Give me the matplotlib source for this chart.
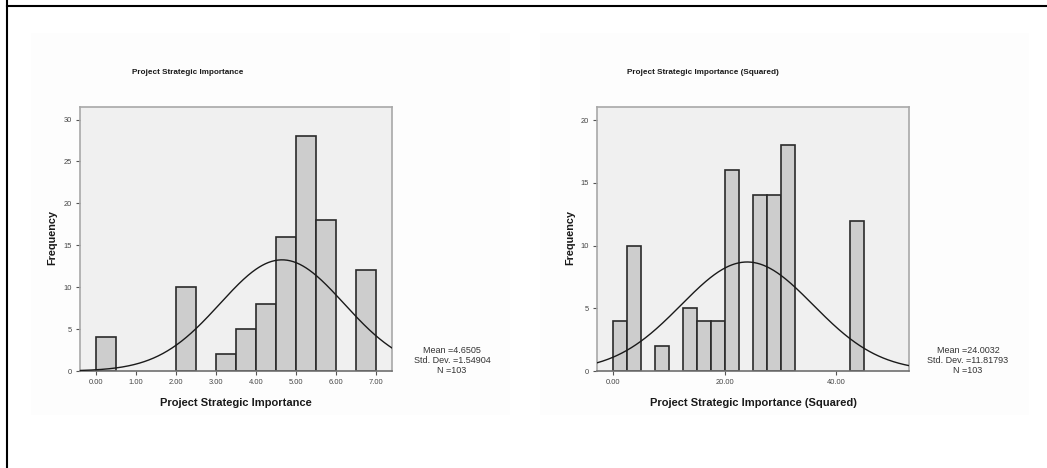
import numpy as np
import matplotlib
matplotlib.use("Agg")
import matplotlib.pyplot as plt
from matplotlib.patches import Rectangle
from matplotlib.lines import Line2D

# ---- data ----
left_bin_starts = [0.0, 2.0, 3.0, 3.5, 4.0, 4.5, 5.0, 5.5, 6.5]
left_counts = [4, 10, 2, 5, 8, 16, 28, 18, 12]
left_bin_width = 0.5
left_mean, left_sd, left_n = 4.6505, 1.54904, 103
left_xticks = [0, 1, 2, 3, 4, 5, 6, 7]
left_xticklabels = ["0.00", "1.00", "2.00", "3.00", "4.00", "5.00", "6.00", "7.00"]
left_yticks = [0, 5, 10, 15, 20, 25, 30]

right_bin_starts = [0.0, 2.5, 7.5, 12.5, 15.0, 17.5, 20.0, 25.0, 27.5, 30.0, 42.5]
right_counts = [4, 10, 2, 5, 4, 4, 16, 14, 14, 18, 12]
right_bin_width = 2.5
right_mean, right_sd, right_n = 24.0032, 11.81793, 103
right_xticks = [0, 20, 40]
right_xticklabels = ["0.00", "20.00", "40.00"]
right_yticks = [0, 5, 10, 15, 20]

titles = ["Project Strategic Importance", "Project Strategic Importance (Squared)"]
xlabels = ["Project Strategic Importance", "Project Strategic Importance (Squared)"]
stats_left = "Mean =4.6505\nStd. Dev. =1.54904\nN =103"
stats_right = "Mean =24.0032\nStd. Dev. =11.81793\nN =103"

W, H = 1047, 468
fig = plt.figure(figsize=(W / 100, H / 100), dpi=100)
fig.patch.set_facecolor("white")

FONT = ["Liberation Sans Narrow", "Liberation Sans", "DejaVu Sans"]
FONTB = ["Liberation Sans", "DejaVu Sans"]


def fx(px):
    return px / W


def fy(py):
    return 1 - py / H


# faint chart panels
for (x0, x1) in [(31, 510), (540, 1029)]:
    fig.patches.append(Rectangle((fx(x0), fy(415)), fx(x1) - fx(x0), fy(33) - fy(415),
                                 transform=fig.transFigure, facecolor="#FDFDFD",
                                 edgecolor="none", zorder=-5))

# table cell border lines
fig.lines.append(Line2D([fx(7), 1.0], [fy(6), fy(6)], transform=fig.transFigure,
                        color="black", lw=1.5, zorder=-4))
fig.lines.append(Line2D([fx(7.3), fx(7.3)], [0.0, 1.0], transform=fig.transFigure,
                        color="black", lw=1.5, zorder=-4))


def make_panel(ax_px, starts, counts, bw, mean, sd, n, xlim, ylim, xticks, xtl, yticks,
               title, title_cx, xlabel, ylabel_x, stats, stats_cx):
    x0, y0, x1, y1 = ax_px
    ax = fig.add_axes([fx(x0), fy(y1), fx(x1) - fx(x0), fy(y0) - fy(y1)])
    ax.set_zorder(2)
    ax.set_facecolor("#F0F0F0")
    ax.bar(starts, counts, width=bw, align="edge", color="#CDCDCD",
           edgecolor="#2A2A2A", linewidth=1.2, zorder=2)
    xs = np.linspace(xlim[0], xlim[1], 400)
    ys = n * bw / (sd * np.sqrt(2 * np.pi)) * np.exp(-0.5 * ((xs - mean) / sd) ** 2)
    ax.plot(xs, ys, color="#1A1A1A", lw=1.0, zorder=3)
    ax.set_xlim(*xlim)
    ax.set_ylim(*ylim)
    ax.set_xticks(xticks)
    ax.set_xticklabels(xtl)
    ax.set_yticks(yticks)
    for s in ax.spines.values():
        s.set_color("#A8A8A8")
        s.set_linewidth(1.2)
    ax.spines["bottom"].set_color("#707070")
    ax.tick_params(axis="both", length=3, width=0.8, color="#555555",
                   labelsize=5.4, labelcolor="#444444", pad=3)
    for lab in ax.get_xticklabels() + ax.get_yticklabels():
        lab.set_family(FONTB)
    ax.set_xlabel(xlabel, fontsize=8.0, fontweight="bold", family=FONTB,
                  color="#1A1A1A", labelpad=8.5)
    fig.text(fx(title_cx), fy(73), title, ha="center", va="center", fontsize=5.9,
             family=FONT, color="#1A1A1A", fontweight="bold")
    fig.text(fx(ylabel_x), fy(238), "Frequency", ha="center", va="center",
             rotation=90, fontsize=7.8, fontweight="bold", family=FONTB, color="#1A1A1A")
    fig.text(fx(stats_cx), fy(360.5), stats, ha="center", va="center", fontsize=6.5,
             family=FONT, color="#333333", linespacing=1.18)
    return ax


make_panel((80, 107, 392, 371), left_bin_starts, left_counts, left_bin_width,
           left_mean, left_sd, left_n, (-0.4, 7.4), (0, 31.5),
           left_xticks, left_xticklabels, left_yticks,
           titles[0], 188, xlabels[0], 52.7, stats_left, 452)

make_panel((597, 107, 909, 371), right_bin_starts, right_counts, right_bin_width,
           right_mean, right_sd, right_n, (-2.9, 53.0), (0, 21.05),
           right_xticks, right_xticklabels, right_yticks,
           titles[1], 703, xlabels[1], 570, stats_right, 968)

fig.savefig("out.png", dpi=100, facecolor="white")
